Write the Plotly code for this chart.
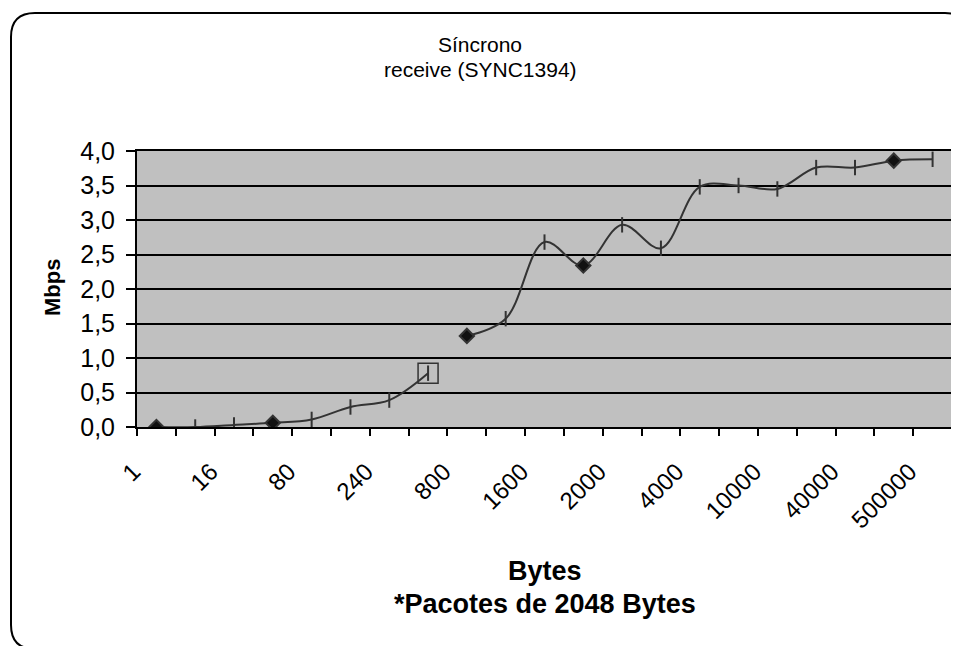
import plotly.graph_objects as go

# ---- data ----
categories = ["1", "8", "16", "40", "80", "160", "240", "480", "800", "1000",
              "1600", "1800", "2000", "3000", "4000", "8000", "10000", "20000",
              "40000", "100000", "500000"]
mbps = [0.00, 0.00, 0.03, 0.06, 0.11, 0.29, 0.39, 0.78, 1.32, 1.57,
        2.68, 2.34, 2.93, 2.59, 3.48, 3.50, 3.45, 3.76, 3.76, 3.86, 3.88]
marker_kind = ["diamond", "line-ns", "line-ns", "diamond", "line-ns", "line-ns",
               "line-ns", "line-ns", "diamond", "line-ns", "line-ns", "diamond",
               "line-ns", "line-ns", "line-ns", "line-ns", "line-ns", "line-ns",
               "line-ns", "diamond", "line-ns"]
break_after = 7          # line is interrupted between this point and the next
square_idx = 7           # point drawn with an extra open square marker
y_ticks = [0.0, 0.5, 1.0, 1.5, 2.0, 2.5, 3.0, 3.5, 4.0]

title_lines = ["Síncrono", "receive (SYNC1394)"]
x_title = ["Bytes", "*Pacotes de 2048 Bytes"]
y_title = "Mbps"

# ---- layout geometry (page pixels; page has an 8px body margin) ----
OFF = 8
W, H = 959, 646
L, R, T, B = 137 - OFF, 952 - OFF, 151 - OFF, 427 - OFF
pw, ph = R - L, B - T


def px(x):           # page x -> paper x
    return (x - OFF - L) / pw


def py(y):           # page y -> paper y
    return (B - (y - OFF)) / ph


xs = list(range(len(categories)))
line_col = "#333333"
FONT = "Liberation Sans, Arial, sans-serif"

fig = go.Figure()

segments = [(0, break_after + 1), (break_after + 1, len(xs))]
for a, b in segments:
    fig.add_trace(go.Scatter(
        x=xs[a:b], y=mbps[a:b], mode="lines+markers",
        line=dict(color=line_col, width=2, shape="spline", smoothing=1.0),
        marker=dict(symbol=marker_kind[a:b], size=11, color="#111111",
                    line=dict(color=line_col, width=2)),
        showlegend=False, hoverinfo="x+y"))

fig.add_trace(go.Scatter(
    x=[xs[square_idx]], y=[mbps[square_idx]], mode="markers",
    marker=dict(symbol="square-open", size=20, color=line_col,
                line=dict(color=line_col, width=1.5)),
    showlegend=False))

# rounded outer border
r = 24
x0, y0, x1, y1 = 11, 13, 969, 649
path = (f"M {px(x0 + r)},{py(y0)} L {px(x1 - r)},{py(y0)} "
        f"Q {px(x1)},{py(y0)} {px(x1)},{py(y0 + r)} "
        f"L {px(x1)},{py(y1 - r)} Q {px(x1)},{py(y1)} {px(x1 - r)},{py(y1)} "
        f"L {px(x0 + r)},{py(y1)} Q {px(x0)},{py(y1)} {px(x0)},{py(y1 - r)} "
        f"L {px(x0)},{py(y0 + r)} Q {px(x0)},{py(y0)} {px(x0 + r)},{py(y0)} Z")
fig.add_shape(type="path", path=path, xref="paper", yref="paper",
              line=dict(color="black", width=2), layer="above")

for txt, yc in zip(title_lines, [44, 69]):
    fig.add_annotation(text=txt, xref="paper", yref="paper",
                       x=px(480), y=py(yc), showarrow=False,
                       font=dict(family=FONT, size=21, color="black"),
                       xanchor="center", yanchor="middle")
for txt, yc in zip(x_title, [571, 604]):
    fig.add_annotation(text="<b>" + txt + "</b>",
                       xref="paper", yref="paper", x=px(544.5), y=py(yc),
                       showarrow=False, font=dict(family=FONT, size=27, color="black"),
                       xanchor="center", yanchor="middle")
fig.add_annotation(text="<b>" + y_title + "</b>", xref="paper", yref="paper",
                   x=px(52), y=py(288), showarrow=False, textangle=-90,
                   font=dict(family=FONT, size=22, color="black"),
                   xanchor="center", yanchor="middle")

fig.update_layout(
    width=W, height=H,
    margin=dict(l=L, r=W - R, t=T, b=H - B, pad=0),
    paper_bgcolor="white", plot_bgcolor="#C0C0C0",
    separators=",.",
    font=dict(family=FONT, color="black"),
    xaxis=dict(
        range=[-0.5, len(xs) - 0.5], showgrid=False, zeroline=False,
        tickvals=xs[::2], ticktext=categories[::2], tickangle=-45,
        ticks="", tickfont=dict(size=24, family=FONT),
        ticklabelshift=-23, ticklabelstandoff=19,
        showline=True, linecolor="black", linewidth=2, mirror=True,
        minor=dict(tickvals=[i - 0.5 for i in range(len(xs) + 1)],
                   ticks="outside", ticklen=7, tickwidth=1.5, tickcolor="black",
                   showgrid=False),
    ),
    yaxis=dict(
        range=[0, 4.0], tickvals=y_ticks, tickformat=".1f",
        showgrid=True, gridcolor="black", gridwidth=1.5, zeroline=False,
        ticks="outside", ticklen=9, tickwidth=1.5, tickcolor="black",
        tickfont=dict(size=25, family=FONT), ticklabelstandoff=6,
        showline=True, linecolor="black", linewidth=2, mirror=True,
    ),
)

fig.write_html("out.html")
